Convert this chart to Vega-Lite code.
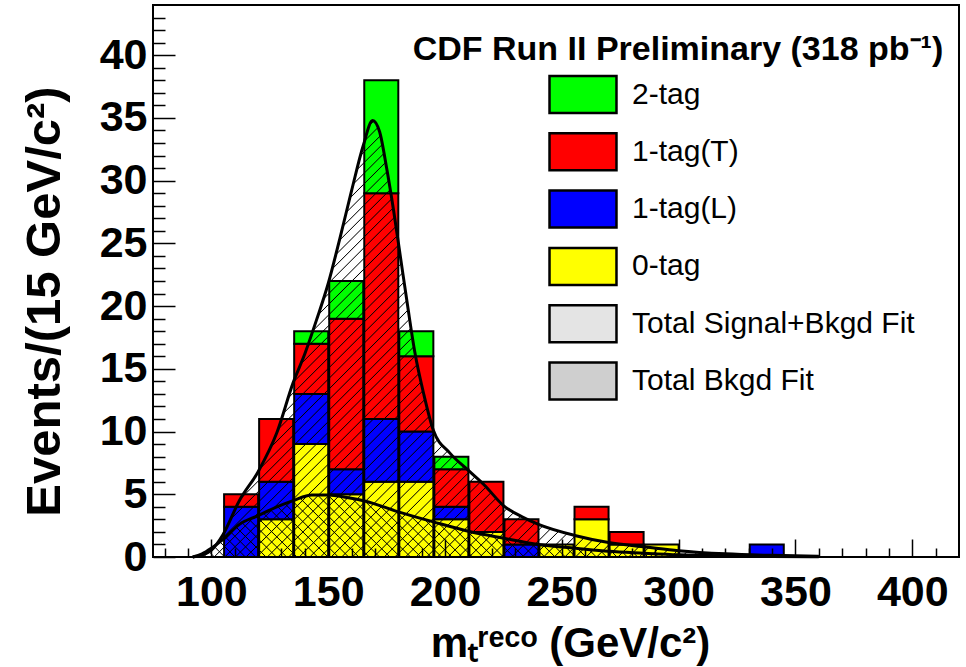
{
  "$schema": "https://vega.github.io/schema/vega-lite/v6.json",
  "width": 806,
  "height": 552,
  "autosize": "none",
  "padding": {"left": 153, "top": 5, "right": 7, "bottom": 110},
  "background": "white",
  "config": {
    "view": {"stroke": "black", "strokeWidth": 2},
    "font": "Liberation Sans",
    "axis": {"grid": false, "labelFont": "Liberation Sans", "titleFont": "Liberation Sans", "labelColor": "black", "titleColor": "black", "tickColor": "black", "labelFlush": false, "labelOverlap": false},
    "legend": {"symbolStrokeColor": "black", "symbolStrokeWidth": 2.5}
  },
  "datasets": {
    "hist": [
      {"lo": 105, "hi": 120, "tag": "1-tag(L)", "n": 4},
      {"lo": 105, "hi": 120, "tag": "1-tag(T)", "n": 1},
      {"lo": 120, "hi": 135, "tag": "0-tag", "n": 3},
      {"lo": 120, "hi": 135, "tag": "1-tag(L)", "n": 3},
      {"lo": 120, "hi": 135, "tag": "1-tag(T)", "n": 5},
      {"lo": 135, "hi": 150, "tag": "0-tag", "n": 9},
      {"lo": 135, "hi": 150, "tag": "1-tag(L)", "n": 4},
      {"lo": 135, "hi": 150, "tag": "1-tag(T)", "n": 4},
      {"lo": 135, "hi": 150, "tag": "2-tag", "n": 1},
      {"lo": 150, "hi": 165, "tag": "0-tag", "n": 5},
      {"lo": 150, "hi": 165, "tag": "1-tag(L)", "n": 2},
      {"lo": 150, "hi": 165, "tag": "1-tag(T)", "n": 12},
      {"lo": 150, "hi": 165, "tag": "2-tag", "n": 3},
      {"lo": 165, "hi": 180, "tag": "0-tag", "n": 6},
      {"lo": 165, "hi": 180, "tag": "1-tag(L)", "n": 5},
      {"lo": 165, "hi": 180, "tag": "1-tag(T)", "n": 18},
      {"lo": 165, "hi": 180, "tag": "2-tag", "n": 9},
      {"lo": 180, "hi": 195, "tag": "0-tag", "n": 6},
      {"lo": 180, "hi": 195, "tag": "1-tag(L)", "n": 4},
      {"lo": 180, "hi": 195, "tag": "1-tag(T)", "n": 6},
      {"lo": 180, "hi": 195, "tag": "2-tag", "n": 2},
      {"lo": 195, "hi": 210, "tag": "0-tag", "n": 3},
      {"lo": 195, "hi": 210, "tag": "1-tag(L)", "n": 1},
      {"lo": 195, "hi": 210, "tag": "1-tag(T)", "n": 3},
      {"lo": 195, "hi": 210, "tag": "2-tag", "n": 1},
      {"lo": 210, "hi": 225, "tag": "0-tag", "n": 2},
      {"lo": 210, "hi": 225, "tag": "1-tag(T)", "n": 4},
      {"lo": 225, "hi": 240, "tag": "1-tag(L)", "n": 1},
      {"lo": 225, "hi": 240, "tag": "1-tag(T)", "n": 2},
      {"lo": 240, "hi": 255, "tag": "0-tag", "n": 1},
      {"lo": 255, "hi": 270, "tag": "0-tag", "n": 3},
      {"lo": 255, "hi": 270, "tag": "1-tag(T)", "n": 1},
      {"lo": 270, "hi": 285, "tag": "0-tag", "n": 1},
      {"lo": 270, "hi": 285, "tag": "1-tag(T)", "n": 1},
      {"lo": 285, "hi": 300, "tag": "0-tag", "n": 1},
      {"lo": 330, "hi": 345, "tag": "1-tag(L)", "n": 1}
    ],
    "sig": [
      {"m": 92, "v": 0}, {"m": 96, "v": 0.15}, {"m": 100, "v": 0.55}, {"m": 105, "v": 1.8},
      {"m": 112, "v": 4.5}, {"m": 120, "v": 6.8}, {"m": 128, "v": 9.9}, {"m": 135, "v": 13.9},
      {"m": 140, "v": 16.2}, {"m": 145, "v": 18.9}, {"m": 150, "v": 21.8}, {"m": 155, "v": 25.4},
      {"m": 160, "v": 29.2}, {"m": 165, "v": 32.8}, {"m": 169, "v": 34.8}, {"m": 172, "v": 33.9},
      {"m": 175, "v": 31.0}, {"m": 178, "v": 27.6}, {"m": 181, "v": 23.8}, {"m": 184, "v": 20.0},
      {"m": 187, "v": 16.4}, {"m": 191, "v": 12.9}, {"m": 195, "v": 10.1}, {"m": 202, "v": 8.3},
      {"m": 210, "v": 6.9}, {"m": 217, "v": 5.7}, {"m": 225, "v": 4.1}, {"m": 233, "v": 3.2},
      {"m": 240, "v": 2.6}, {"m": 256, "v": 1.7}, {"m": 270, "v": 1.15}, {"m": 286, "v": 0.8},
      {"m": 300, "v": 0.5}, {"m": 320, "v": 0.25}, {"m": 340, "v": 0.13}, {"m": 360, "v": 0.05}
    ],
    "bkg": [
      {"m": 92, "v": 0}, {"m": 96, "v": 0.25}, {"m": 100, "v": 0.7}, {"m": 105, "v": 1.4},
      {"m": 112, "v": 2.6}, {"m": 120, "v": 3.3}, {"m": 128, "v": 4.0}, {"m": 135, "v": 4.5},
      {"m": 143, "v": 4.95}, {"m": 150, "v": 4.95}, {"m": 158, "v": 4.75}, {"m": 166, "v": 4.45},
      {"m": 180, "v": 3.6}, {"m": 195, "v": 2.8}, {"m": 210, "v": 2.05}, {"m": 225, "v": 1.5},
      {"m": 240, "v": 1.0}, {"m": 256, "v": 0.7}, {"m": 270, "v": 0.45}, {"m": 285, "v": 0.3},
      {"m": 300, "v": 0.17}, {"m": 320, "v": 0.08}, {"m": 340, "v": 0.04}, {"m": 360, "v": 0.02}
    ],
    "lab": [{"txt": "CDF Run II Preliminary (318 pb⁻¹)"}]
  },
  "resolve": {"axis": {"x": "independent", "y": "independent"}},
  "layer": [
    {
      "data": {"name": "hist"},
      "mark": {"type": "bar", "stroke": "black", "strokeWidth": 2},
      "encoding": {
        "x": {"field": "lo", "type": "quantitative", "bin": "binned", "scale": {"domain": [75, 420], "nice": false, "zero": false},
          "axis": {"orient": "bottom", "values": [100, 150, 200, 250, 300, 350, 400], "ticks": false, "domain": false, "labelFontSize": 43, "labelFontWeight": "bold", "labelPadding": 14,
            "title": "mₜʳᵉᶜᵒ (GeV/c²)", "titleFontSize": 42, "titleFontWeight": "bold", "titleX": 417, "titleY": 99, "titleAlign": "center", "titleBaseline": "alphabetic"}},
        "x2": {"field": "hi"},
        "y": {"field": "n", "type": "quantitative", "stack": "zero", "scale": {"domain": [0, 44], "nice": false},
          "axis": {"orient": "left", "values": [0, 5, 10, 15, 20, 25, 30, 35, 40], "ticks": false, "domain": false, "labelFontSize": 43, "labelFontWeight": "bold", "labelPadding": 6,
            "title": "Events/(15 GeV/c²)", "titleFontSize": 49, "titleFontWeight": "bold", "titleAngle": -90, "titleX": -94, "titleY": 296, "titleAlign": "center", "titleBaseline": "alphabetic"}},
        "color": {"field": "tag", "type": "nominal",
          "scale": {"domain": ["2-tag", "1-tag(T)", "1-tag(L)", "0-tag", "Total Signal+Bkgd Fit", "Total Bkgd Fit"],
            "range": ["#00ff00", "#ff0000", "#0000ff", "#ffff00", "#e4e4e4", "#cfcfcf"]},
          "legend": {"orient": "none", "legendX": 410, "legendY": 69.5, "title": null, "padding": 0,
            "symbolType": "M-1.81,-1L1.81,-1L1.81,1L-1.81,1Z", "symbolSize": 1369, "symbolStrokeColor": "black", "symbolStrokeWidth": 2.5, "symbolOpacity": 1,
            "labelFont": "Liberation Sans", "labelFontSize": 30, "labelColor": "black", "labelLimit": 600, "labelOffset": 29, "rowPadding": 9.3}},
        "order": {"field": "tag", "sort": "ascending"}
      }
    },
    {
      "data": {"name": "sig"},
      "mark": {"type": "area", "interpolate": "monotone",
        "fill": {"gradient": "linear", "x1": 0, "y1": 0, "x2": 1.142, "y2": 0.7963, "stops": [
          {"offset":0,"color":"#0000"},{"offset":0.001,"color":"#000"},{"offset":0.002,"color":"#0000"},
          {"offset":0.01,"color":"#0000"},{"offset":0.011,"color":"#000"},{"offset":0.012,"color":"#0000"},
          {"offset":0.02,"color":"#0000"},{"offset":0.021,"color":"#000"},{"offset":0.022,"color":"#0000"},
          {"offset":0.03,"color":"#0000"},{"offset":0.031,"color":"#000"},{"offset":0.032,"color":"#0000"},
          {"offset":0.04,"color":"#0000"},{"offset":0.041,"color":"#000"},{"offset":0.042,"color":"#0000"},
          {"offset":0.05,"color":"#0000"},{"offset":0.051,"color":"#000"},{"offset":0.052,"color":"#0000"},
          {"offset":0.06,"color":"#0000"},{"offset":0.061,"color":"#000"},{"offset":0.062,"color":"#0000"},
          {"offset":0.07,"color":"#0000"},{"offset":0.071,"color":"#000"},{"offset":0.072,"color":"#0000"},
          {"offset":0.08,"color":"#0000"},{"offset":0.081,"color":"#000"},{"offset":0.082,"color":"#0000"},
          {"offset":0.09,"color":"#0000"},{"offset":0.091,"color":"#000"},{"offset":0.092,"color":"#0000"},
          {"offset":0.1,"color":"#0000"},{"offset":0.101,"color":"#000"},{"offset":0.102,"color":"#0000"},
          {"offset":0.11,"color":"#0000"},{"offset":0.111,"color":"#000"},{"offset":0.112,"color":"#0000"},
          {"offset":0.12,"color":"#0000"},{"offset":0.121,"color":"#000"},{"offset":0.122,"color":"#0000"},
          {"offset":0.13,"color":"#0000"},{"offset":0.131,"color":"#000"},{"offset":0.132,"color":"#0000"},
          {"offset":0.14,"color":"#0000"},{"offset":0.141,"color":"#000"},{"offset":0.142,"color":"#0000"},
          {"offset":0.15,"color":"#0000"},{"offset":0.151,"color":"#000"},{"offset":0.152,"color":"#0000"},
          {"offset":0.16,"color":"#0000"},{"offset":0.161,"color":"#000"},{"offset":0.162,"color":"#0000"},
          {"offset":0.17,"color":"#0000"},{"offset":0.171,"color":"#000"},{"offset":0.172,"color":"#0000"},
          {"offset":0.18,"color":"#0000"},{"offset":0.181,"color":"#000"},{"offset":0.182,"color":"#0000"},
          {"offset":0.19,"color":"#0000"},{"offset":0.191,"color":"#000"},{"offset":0.192,"color":"#0000"},
          {"offset":0.2,"color":"#0000"},{"offset":0.201,"color":"#000"},{"offset":0.202,"color":"#0000"},
          {"offset":0.21,"color":"#0000"},{"offset":0.211,"color":"#000"},{"offset":0.212,"color":"#0000"},
          {"offset":0.22,"color":"#0000"},{"offset":0.221,"color":"#000"},{"offset":0.222,"color":"#0000"},
          {"offset":0.23,"color":"#0000"},{"offset":0.231,"color":"#000"},{"offset":0.232,"color":"#0000"},
          {"offset":0.24,"color":"#0000"},{"offset":0.241,"color":"#000"},{"offset":0.242,"color":"#0000"},
          {"offset":0.25,"color":"#0000"},{"offset":0.251,"color":"#000"},{"offset":0.252,"color":"#0000"},
          {"offset":0.26,"color":"#0000"},{"offset":0.261,"color":"#000"},{"offset":0.262,"color":"#0000"},
          {"offset":0.27,"color":"#0000"},{"offset":0.271,"color":"#000"},{"offset":0.272,"color":"#0000"},
          {"offset":0.28,"color":"#0000"},{"offset":0.281,"color":"#000"},{"offset":0.282,"color":"#0000"},
          {"offset":0.29,"color":"#0000"},{"offset":0.291,"color":"#000"},{"offset":0.292,"color":"#0000"},
          {"offset":0.3,"color":"#0000"},{"offset":0.301,"color":"#000"},{"offset":0.302,"color":"#0000"},
          {"offset":0.31,"color":"#0000"},{"offset":0.311,"color":"#000"},{"offset":0.312,"color":"#0000"},
          {"offset":0.32,"color":"#0000"},{"offset":0.321,"color":"#000"},{"offset":0.322,"color":"#0000"},
          {"offset":0.33,"color":"#0000"},{"offset":0.331,"color":"#000"},{"offset":0.332,"color":"#0000"},
          {"offset":0.34,"color":"#0000"},{"offset":0.341,"color":"#000"},{"offset":0.342,"color":"#0000"},
          {"offset":0.35,"color":"#0000"},{"offset":0.351,"color":"#000"},{"offset":0.352,"color":"#0000"},
          {"offset":0.36,"color":"#0000"},{"offset":0.361,"color":"#000"},{"offset":0.362,"color":"#0000"},
          {"offset":0.37,"color":"#0000"},{"offset":0.371,"color":"#000"},{"offset":0.372,"color":"#0000"},
          {"offset":0.38,"color":"#0000"},{"offset":0.381,"color":"#000"},{"offset":0.382,"color":"#0000"},
          {"offset":0.39,"color":"#0000"},{"offset":0.391,"color":"#000"},{"offset":0.392,"color":"#0000"},
          {"offset":0.4,"color":"#0000"},{"offset":0.401,"color":"#000"},{"offset":0.402,"color":"#0000"},
          {"offset":0.41,"color":"#0000"},{"offset":0.411,"color":"#000"},{"offset":0.412,"color":"#0000"},
          {"offset":0.42,"color":"#0000"},{"offset":0.421,"color":"#000"},{"offset":0.422,"color":"#0000"},
          {"offset":0.43,"color":"#0000"},{"offset":0.431,"color":"#000"},{"offset":0.432,"color":"#0000"},
          {"offset":0.44,"color":"#0000"},{"offset":0.441,"color":"#000"},{"offset":0.442,"color":"#0000"},
          {"offset":0.45,"color":"#0000"},{"offset":0.451,"color":"#000"},{"offset":0.452,"color":"#0000"},
          {"offset":0.46,"color":"#0000"},{"offset":0.461,"color":"#000"},{"offset":0.462,"color":"#0000"},
          {"offset":0.47,"color":"#0000"},{"offset":0.471,"color":"#000"},{"offset":0.472,"color":"#0000"},
          {"offset":0.48,"color":"#0000"},{"offset":0.481,"color":"#000"},{"offset":0.482,"color":"#0000"},
          {"offset":0.49,"color":"#0000"},{"offset":0.491,"color":"#000"},{"offset":0.492,"color":"#0000"},
          {"offset":0.5,"color":"#0000"},{"offset":0.501,"color":"#000"},{"offset":0.502,"color":"#0000"},
          {"offset":0.51,"color":"#0000"},{"offset":0.511,"color":"#000"},{"offset":0.512,"color":"#0000"},
          {"offset":0.52,"color":"#0000"},{"offset":0.521,"color":"#000"},{"offset":0.522,"color":"#0000"},
          {"offset":0.53,"color":"#0000"},{"offset":0.531,"color":"#000"},{"offset":0.532,"color":"#0000"},
          {"offset":0.54,"color":"#0000"},{"offset":0.541,"color":"#000"},{"offset":0.542,"color":"#0000"},
          {"offset":0.55,"color":"#0000"},{"offset":0.551,"color":"#000"},{"offset":0.552,"color":"#0000"},
          {"offset":0.56,"color":"#0000"},{"offset":0.561,"color":"#000"},{"offset":0.562,"color":"#0000"},
          {"offset":0.57,"color":"#0000"},{"offset":0.571,"color":"#000"},{"offset":0.572,"color":"#0000"},
          {"offset":0.58,"color":"#0000"},{"offset":0.581,"color":"#000"},{"offset":0.582,"color":"#0000"},
          {"offset":0.59,"color":"#0000"},{"offset":0.591,"color":"#000"},{"offset":0.592,"color":"#0000"},
          {"offset":0.6,"color":"#0000"},{"offset":0.601,"color":"#000"},{"offset":0.602,"color":"#0000"},
          {"offset":0.61,"color":"#0000"},{"offset":0.611,"color":"#000"},{"offset":0.612,"color":"#0000"},
          {"offset":0.62,"color":"#0000"},{"offset":0.621,"color":"#000"},{"offset":0.622,"color":"#0000"},
          {"offset":0.63,"color":"#0000"},{"offset":0.631,"color":"#000"},{"offset":0.632,"color":"#0000"},
          {"offset":0.64,"color":"#0000"},{"offset":0.641,"color":"#000"},{"offset":0.642,"color":"#0000"},
          {"offset":0.65,"color":"#0000"},{"offset":0.651,"color":"#000"},{"offset":0.652,"color":"#0000"},
          {"offset":0.66,"color":"#0000"},{"offset":0.661,"color":"#000"},{"offset":0.662,"color":"#0000"},
          {"offset":0.67,"color":"#0000"},{"offset":0.671,"color":"#000"},{"offset":0.672,"color":"#0000"},
          {"offset":0.68,"color":"#0000"},{"offset":0.681,"color":"#000"},{"offset":0.682,"color":"#0000"},
          {"offset":0.69,"color":"#0000"},{"offset":0.691,"color":"#000"},{"offset":0.692,"color":"#0000"},
          {"offset":0.7,"color":"#0000"},{"offset":0.701,"color":"#000"},{"offset":0.702,"color":"#0000"},
          {"offset":0.71,"color":"#0000"},{"offset":0.711,"color":"#000"},{"offset":0.712,"color":"#0000"},
          {"offset":0.72,"color":"#0000"},{"offset":0.721,"color":"#000"},{"offset":0.722,"color":"#0000"},
          {"offset":0.73,"color":"#0000"},{"offset":0.731,"color":"#000"},{"offset":0.732,"color":"#0000"},
          {"offset":0.74,"color":"#0000"},{"offset":0.741,"color":"#000"},{"offset":0.742,"color":"#0000"},
          {"offset":0.75,"color":"#0000"},{"offset":0.751,"color":"#000"},{"offset":0.752,"color":"#0000"},
          {"offset":0.76,"color":"#0000"},{"offset":0.761,"color":"#000"},{"offset":0.762,"color":"#0000"},
          {"offset":0.77,"color":"#0000"},{"offset":0.771,"color":"#000"},{"offset":0.772,"color":"#0000"},
          {"offset":0.78,"color":"#0000"},{"offset":0.781,"color":"#000"},{"offset":0.782,"color":"#0000"},
          {"offset":0.79,"color":"#0000"},{"offset":0.791,"color":"#000"},{"offset":0.792,"color":"#0000"},
          {"offset":0.8,"color":"#0000"},{"offset":0.801,"color":"#000"},{"offset":0.802,"color":"#0000"},
          {"offset":0.81,"color":"#0000"},{"offset":0.811,"color":"#000"},{"offset":0.812,"color":"#0000"},
          {"offset":0.82,"color":"#0000"},{"offset":0.821,"color":"#000"},{"offset":0.822,"color":"#0000"},
          {"offset":0.83,"color":"#0000"},{"offset":0.831,"color":"#000"},{"offset":0.832,"color":"#0000"},
          {"offset":0.84,"color":"#0000"},{"offset":0.841,"color":"#000"},{"offset":0.842,"color":"#0000"},
          {"offset":0.85,"color":"#0000"},{"offset":0.851,"color":"#000"},{"offset":0.852,"color":"#0000"},
          {"offset":0.86,"color":"#0000"},{"offset":0.861,"color":"#000"},{"offset":0.862,"color":"#0000"},
          {"offset":0.87,"color":"#0000"},{"offset":0.871,"color":"#000"},{"offset":0.872,"color":"#0000"},
          {"offset":0.88,"color":"#0000"},{"offset":0.881,"color":"#000"},{"offset":0.882,"color":"#0000"},
          {"offset":0.89,"color":"#0000"},{"offset":0.891,"color":"#000"},{"offset":0.892,"color":"#0000"},
          {"offset":0.9,"color":"#0000"},{"offset":0.901,"color":"#000"},{"offset":0.902,"color":"#0000"},
          {"offset":0.91,"color":"#0000"},{"offset":0.911,"color":"#000"},{"offset":0.912,"color":"#0000"},
          {"offset":0.92,"color":"#0000"},{"offset":0.921,"color":"#000"},{"offset":0.922,"color":"#0000"},
          {"offset":0.93,"color":"#0000"},{"offset":0.931,"color":"#000"},{"offset":0.932,"color":"#0000"},
          {"offset":0.94,"color":"#0000"},{"offset":0.941,"color":"#000"},{"offset":0.942,"color":"#0000"},
          {"offset":0.95,"color":"#0000"},{"offset":0.951,"color":"#000"},{"offset":0.952,"color":"#0000"},
          {"offset":0.96,"color":"#0000"},{"offset":0.961,"color":"#000"},{"offset":0.962,"color":"#0000"},
          {"offset":0.97,"color":"#0000"},{"offset":0.971,"color":"#000"},{"offset":0.972,"color":"#0000"},
          {"offset":0.98,"color":"#0000"},{"offset":0.981,"color":"#000"},{"offset":0.982,"color":"#0000"},
          {"offset":0.99,"color":"#0000"},{"offset":0.991,"color":"#000"},{"offset":0.992,"color":"#0000"}
        ]}},
      "encoding": {
        "x": {"field": "m", "type": "quantitative", "scale": {"domain": [75, 420], "nice": false, "zero": false},
          "axis": {"orient": "bottom", "values": [100, 150, 200, 250, 300, 350, 400], "labels": false, "domain": false, "offset": -18, "tickSize": 18, "tickWidth": 1.5, "title": null, "zindex": 1}},
        "y": {"field": "v", "type": "quantitative", "scale": {"domain": [0, 44], "nice": false},
          "axis": {"orient": "left", "values": [0, 5, 10, 15, 20, 25, 30, 35, 40], "labels": false, "domain": false, "offset": -22, "tickSize": 22, "tickWidth": 1.5, "title": null, "zindex": 1}}
      }
    },
    {
      "data": {"name": "bkg"},
      "mark": {"type": "area", "interpolate": "monotone",
        "fill": {"gradient": "linear", "x1": 0, "y1": 1, "x2": 1.0885, "y2": 0.892, "stops": [
          {"offset":0,"color":"#0000"},{"offset":0.0015,"color":"#000"},{"offset":0.003,"color":"#0000"},
          {"offset":0.015,"color":"#0000"},{"offset":0.0165,"color":"#000"},{"offset":0.018,"color":"#0000"},
          {"offset":0.03,"color":"#0000"},{"offset":0.0315,"color":"#000"},{"offset":0.033,"color":"#0000"},
          {"offset":0.045,"color":"#0000"},{"offset":0.0465,"color":"#000"},{"offset":0.048,"color":"#0000"},
          {"offset":0.06,"color":"#0000"},{"offset":0.0615,"color":"#000"},{"offset":0.063,"color":"#0000"},
          {"offset":0.075,"color":"#0000"},{"offset":0.0765,"color":"#000"},{"offset":0.078,"color":"#0000"},
          {"offset":0.09,"color":"#0000"},{"offset":0.0915,"color":"#000"},{"offset":0.093,"color":"#0000"},
          {"offset":0.105,"color":"#0000"},{"offset":0.1065,"color":"#000"},{"offset":0.108,"color":"#0000"},
          {"offset":0.12,"color":"#0000"},{"offset":0.1215,"color":"#000"},{"offset":0.123,"color":"#0000"},
          {"offset":0.135,"color":"#0000"},{"offset":0.1365,"color":"#000"},{"offset":0.138,"color":"#0000"},
          {"offset":0.15,"color":"#0000"},{"offset":0.1515,"color":"#000"},{"offset":0.153,"color":"#0000"},
          {"offset":0.165,"color":"#0000"},{"offset":0.1665,"color":"#000"},{"offset":0.168,"color":"#0000"},
          {"offset":0.18,"color":"#0000"},{"offset":0.1815,"color":"#000"},{"offset":0.183,"color":"#0000"},
          {"offset":0.195,"color":"#0000"},{"offset":0.1965,"color":"#000"},{"offset":0.198,"color":"#0000"},
          {"offset":0.21,"color":"#0000"},{"offset":0.2115,"color":"#000"},{"offset":0.213,"color":"#0000"},
          {"offset":0.225,"color":"#0000"},{"offset":0.2265,"color":"#000"},{"offset":0.228,"color":"#0000"},
          {"offset":0.24,"color":"#0000"},{"offset":0.2415,"color":"#000"},{"offset":0.243,"color":"#0000"},
          {"offset":0.255,"color":"#0000"},{"offset":0.2565,"color":"#000"},{"offset":0.258,"color":"#0000"},
          {"offset":0.27,"color":"#0000"},{"offset":0.2715,"color":"#000"},{"offset":0.273,"color":"#0000"},
          {"offset":0.285,"color":"#0000"},{"offset":0.2865,"color":"#000"},{"offset":0.288,"color":"#0000"},
          {"offset":0.3,"color":"#0000"},{"offset":0.3015,"color":"#000"},{"offset":0.303,"color":"#0000"},
          {"offset":0.315,"color":"#0000"},{"offset":0.3165,"color":"#000"},{"offset":0.318,"color":"#0000"},
          {"offset":0.33,"color":"#0000"},{"offset":0.3315,"color":"#000"},{"offset":0.333,"color":"#0000"},
          {"offset":0.345,"color":"#0000"},{"offset":0.3465,"color":"#000"},{"offset":0.348,"color":"#0000"},
          {"offset":0.36,"color":"#0000"},{"offset":0.3615,"color":"#000"},{"offset":0.363,"color":"#0000"},
          {"offset":0.375,"color":"#0000"},{"offset":0.3765,"color":"#000"},{"offset":0.378,"color":"#0000"},
          {"offset":0.39,"color":"#0000"},{"offset":0.3915,"color":"#000"},{"offset":0.393,"color":"#0000"},
          {"offset":0.405,"color":"#0000"},{"offset":0.4065,"color":"#000"},{"offset":0.408,"color":"#0000"},
          {"offset":0.42,"color":"#0000"},{"offset":0.4215,"color":"#000"},{"offset":0.423,"color":"#0000"},
          {"offset":0.435,"color":"#0000"},{"offset":0.4365,"color":"#000"},{"offset":0.438,"color":"#0000"},
          {"offset":0.45,"color":"#0000"},{"offset":0.4515,"color":"#000"},{"offset":0.453,"color":"#0000"},
          {"offset":0.465,"color":"#0000"},{"offset":0.4665,"color":"#000"},{"offset":0.468,"color":"#0000"},
          {"offset":0.48,"color":"#0000"},{"offset":0.4815,"color":"#000"},{"offset":0.483,"color":"#0000"},
          {"offset":0.495,"color":"#0000"},{"offset":0.4965,"color":"#000"},{"offset":0.498,"color":"#0000"},
          {"offset":0.51,"color":"#0000"},{"offset":0.5115,"color":"#000"},{"offset":0.513,"color":"#0000"},
          {"offset":0.525,"color":"#0000"},{"offset":0.5265,"color":"#000"},{"offset":0.528,"color":"#0000"},
          {"offset":0.54,"color":"#0000"},{"offset":0.5415,"color":"#000"},{"offset":0.543,"color":"#0000"},
          {"offset":0.555,"color":"#0000"},{"offset":0.5565,"color":"#000"},{"offset":0.558,"color":"#0000"},
          {"offset":0.57,"color":"#0000"},{"offset":0.5715,"color":"#000"},{"offset":0.573,"color":"#0000"},
          {"offset":0.585,"color":"#0000"},{"offset":0.5865,"color":"#000"},{"offset":0.588,"color":"#0000"},
          {"offset":0.6,"color":"#0000"},{"offset":0.6015,"color":"#000"},{"offset":0.603,"color":"#0000"},
          {"offset":0.615,"color":"#0000"},{"offset":0.6165,"color":"#000"},{"offset":0.618,"color":"#0000"},
          {"offset":0.63,"color":"#0000"},{"offset":0.6315,"color":"#000"},{"offset":0.633,"color":"#0000"},
          {"offset":0.645,"color":"#0000"},{"offset":0.6465,"color":"#000"},{"offset":0.648,"color":"#0000"},
          {"offset":0.66,"color":"#0000"},{"offset":0.6615,"color":"#000"},{"offset":0.663,"color":"#0000"},
          {"offset":0.675,"color":"#0000"},{"offset":0.6765,"color":"#000"},{"offset":0.678,"color":"#0000"},
          {"offset":0.69,"color":"#0000"},{"offset":0.6915,"color":"#000"},{"offset":0.693,"color":"#0000"},
          {"offset":0.705,"color":"#0000"},{"offset":0.7065,"color":"#000"},{"offset":0.708,"color":"#0000"},
          {"offset":0.72,"color":"#0000"},{"offset":0.7215,"color":"#000"},{"offset":0.723,"color":"#0000"},
          {"offset":0.735,"color":"#0000"},{"offset":0.7365,"color":"#000"},{"offset":0.738,"color":"#0000"},
          {"offset":0.75,"color":"#0000"},{"offset":0.7515,"color":"#000"},{"offset":0.753,"color":"#0000"},
          {"offset":0.765,"color":"#0000"},{"offset":0.7665,"color":"#000"},{"offset":0.768,"color":"#0000"},
          {"offset":0.78,"color":"#0000"},{"offset":0.7815,"color":"#000"},{"offset":0.783,"color":"#0000"},
          {"offset":0.795,"color":"#0000"},{"offset":0.7965,"color":"#000"},{"offset":0.798,"color":"#0000"},
          {"offset":0.81,"color":"#0000"},{"offset":0.8115,"color":"#000"},{"offset":0.813,"color":"#0000"},
          {"offset":0.825,"color":"#0000"},{"offset":0.8265,"color":"#000"},{"offset":0.828,"color":"#0000"},
          {"offset":0.84,"color":"#0000"},{"offset":0.8415,"color":"#000"},{"offset":0.843,"color":"#0000"},
          {"offset":0.855,"color":"#0000"},{"offset":0.8565,"color":"#000"},{"offset":0.858,"color":"#0000"},
          {"offset":0.87,"color":"#0000"},{"offset":0.8715,"color":"#000"},{"offset":0.873,"color":"#0000"},
          {"offset":0.885,"color":"#0000"},{"offset":0.8865,"color":"#000"},{"offset":0.888,"color":"#0000"},
          {"offset":0.9,"color":"#0000"},{"offset":0.9015,"color":"#000"},{"offset":0.903,"color":"#0000"},
          {"offset":0.915,"color":"#0000"},{"offset":0.9165,"color":"#000"},{"offset":0.918,"color":"#0000"},
          {"offset":0.93,"color":"#0000"},{"offset":0.9315,"color":"#000"},{"offset":0.933,"color":"#0000"},
          {"offset":0.945,"color":"#0000"},{"offset":0.9465,"color":"#000"},{"offset":0.948,"color":"#0000"},
          {"offset":0.96,"color":"#0000"},{"offset":0.9615,"color":"#000"},{"offset":0.963,"color":"#0000"},
          {"offset":0.975,"color":"#0000"},{"offset":0.9765,"color":"#000"},{"offset":0.978,"color":"#0000"},
          {"offset":0.99,"color":"#0000"},{"offset":0.9915,"color":"#000"},{"offset":0.993,"color":"#0000"}
        ]}},
      "encoding": {
        "x": {"field": "m", "type": "quantitative", "scale": {"domain": [75, 420], "nice": false, "zero": false},
          "axis": {"orient": "bottom", "values": [80, 90, 110, 120, 130, 140, 160, 170, 180, 190, 210, 220, 230, 240, 260, 270, 280, 290, 310, 320, 330, 340, 360, 370, 380, 390, 410], "labels": false, "domain": false, "offset": -9, "tickSize": 9, "tickWidth": 1.5, "title": null, "zindex": 1}},
        "y": {"field": "v", "type": "quantitative", "scale": {"domain": [0, 44], "nice": false},
          "axis": {"orient": "left", "values": [1, 2, 3, 4, 6, 7, 8, 9, 11, 12, 13, 14, 16, 17, 18, 19, 21, 22, 23, 24, 26, 27, 28, 29, 31, 32, 33, 34, 36, 37, 38, 39, 41, 42, 43], "labels": false, "domain": false, "offset": -12, "tickSize": 12, "tickWidth": 1.5, "title": null, "zindex": 1}}
      }
    },
    {
      "data": {"name": "sig"},
      "mark": {"type": "line", "interpolate": "monotone", "color": "black", "strokeWidth": 3},
      "encoding": {
        "x": {"field": "m", "type": "quantitative", "axis": null},
        "y": {"field": "v", "type": "quantitative", "axis": null}
      }
    },
    {
      "data": {"name": "bkg"},
      "mark": {"type": "line", "interpolate": "monotone", "color": "black", "strokeWidth": 3},
      "encoding": {
        "x": {"field": "m", "type": "quantitative", "axis": null},
        "y": {"field": "v", "type": "quantitative", "axis": null}
      }
    },
    {
      "data": {"name": "lab"},
      "mark": {"type": "text", "font": "Liberation Sans", "fontSize": 34, "fontWeight": "bold", "align": "center", "baseline": "alphabetic", "color": "black"},
      "encoding": {
        "x": {"datum": 299.7, "type": "quantitative", "axis": null},
        "y": {"datum": 39.6, "type": "quantitative", "axis": null},
        "text": {"field": "txt"}
      }
    }
  ]
}
